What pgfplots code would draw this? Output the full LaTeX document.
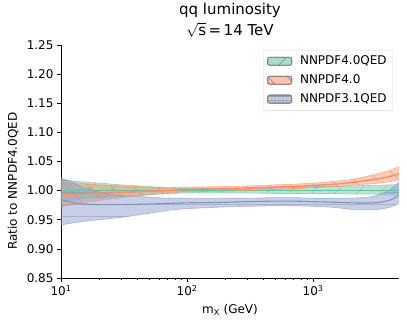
\documentclass[border=0pt]{standalone}
\usepackage{fontspec}
\setmainfont{DejaVu Sans}
\usepackage{pgfplots}
\usepackage{pgfplotstable}
\pgfplotsset{compat=1.18}
\usepgfplotslibrary{fillbetween}
\usetikzlibrary{patterns.meta}
\definecolor{cg}{HTML}{66C2A5}
\definecolor{co}{HTML}{FC8D62}
\definecolor{cb}{HTML}{8DA0CB}

\pgfplotstableread{
x    glo   ghi   olo   oc    ohi   blo   bc    bhi
10   0.980 1.020 0.972 0.994 1.016 0.941 0.985 1.022
12   0.983 1.017 0.975 0.994 1.014 0.944 0.980 1.015
15   0.986 1.015 0.979 0.995 1.012 0.947 0.977 1.006
20   0.988 1.013 0.983 0.996 1.010 0.950 0.976 0.998
30   0.990 1.010 0.988 0.997 1.008 0.954 0.976 0.992
50   0.993 1.007 0.993 0.999 1.006 0.961 0.977 0.989
70   0.995 1.005 0.996 1.000 1.005 0.966 0.978 0.987
100  0.996 1.004 0.998 1.002 1.006 0.969 0.979 0.987
200  0.996 1.004 0.999 1.003 1.007 0.972 0.980 0.987
300  0.996 1.005 1.000 1.004 1.008 0.973 0.981 0.987
500  0.995 1.006 1.002 1.006 1.010 0.974 0.982 0.988
700  0.995 1.006 1.003 1.007 1.011 0.974 0.982 0.988
1000 0.995 1.007 1.005 1.009 1.013 0.973 0.981 0.987
1500 0.995 1.007 1.007 1.011 1.016 0.971 0.980 0.987
2000 0.994 1.008 1.009 1.014 1.019 0.968 0.979 0.987
3000 0.994 1.009 1.012 1.019 1.027 0.967 0.979 0.990
4000 0.993 1.010 1.015 1.024 1.034 0.971 0.983 1.001
4800 0.993 1.010 1.018 1.029 1.041 0.978 0.992 1.015
}\data

\begin{document}
\begin{tikzpicture}
\begin{axis}[
  scale only axis, width=338pt, height=233pt,
  xmode=log, xmin=10, xmax=4800, ymin=0.85, ymax=1.25,
  axis x line*=bottom, axis y line*=left,
  axis line style={line width=0.8pt},
  tick align=outside,
  major tick length=4pt, minor tick length=2.2pt,
  every tick/.style={black, line width=0.7pt},
  minor tick style={line width=0.5pt},
  ytick={0.85,0.90,0.95,1.00,1.05,1.10,1.15,1.20,1.25},
  yticklabels={0.85,0.90,0.95,1.00,1.05,1.10,1.15,1.20,1.25},
  xtick={10,100,1000},
  xticklabels={10\textsuperscript{1},10\textsuperscript{2},10\textsuperscript{3}},
  tick label style={font=\fontsize{12}{14}\selectfont},
  label style={font=\fontsize{12}{14}\selectfont},
  xlabel={m\textsubscript{X} (GeV)},
  ylabel={Ratio to NNPDF4.0QED},
  xlabel style={at={(axis description cs:0.5,-0.137)}, anchor=center},
  ylabel style={at={(axis description cs:-0.142,0.416)}, anchor=center},
  title={qq luminosity\\[4pt]$\sqrt{\mbox{s}}$\,=\,14 TeV},
  title style={at={(axis description cs:0.5,1)}, anchor=south, align=center,
    font=\fontsize{15}{17}\selectfont, yshift=1pt, inner sep=0pt},
  legend style={at={(rel axis cs:0.982,0.979)}, anchor=north east,
    draw=black!15, rounded corners=2pt, fill=white,
    font=\fontsize{12}{14}\selectfont, row sep=4.5pt,
    inner xsep=4pt, inner ysep=4pt},
  legend cell align=left,
  legend image code/.code={\draw[#1] (0pt,-4pt) rectangle (24pt,4pt);},
]
\addlegendimage{fill=cg!55, draw=gray, line width=0.8pt,
  postaction={pattern={Lines[angle=45,distance=14pt,line width=0.6pt]}, pattern color=gray}}
\addlegendentry{\mbox{\kern6pt}NNPDF4.0QED}
\addlegendimage{fill=co!55, draw=gray, line width=0.8pt,
  postaction={pattern={Lines[angle=-45,distance=14pt,line width=0.6pt]}, pattern color=gray}}
\addlegendentry{\mbox{\kern6pt}NNPDF4.0}
\addlegendimage{fill=cb!55, draw=gray, line width=0.8pt,
  postaction={pattern={Lines[angle=0,distance=4pt,line width=0.6pt]}, pattern color=gray}}
\addlegendentry{\mbox{\kern6pt}NNPDF3.1QED}

% green
\addplot[name path=gl, cg, opacity=0.6, line width=0.6pt, forget plot] table[x=x,y=glo]{\data};
\addplot[name path=gh, cg, opacity=0.6, line width=0.6pt, forget plot] table[x=x,y=ghi]{\data};
\addplot[fill=cg, fill opacity=0.45, draw=none, forget plot,
  postaction={pattern={Lines[angle=45,distance=16pt,line width=0.5pt]}, pattern color=cg!70!black, opacity=0.4}]
  fill between[of=gl and gh];
\addplot[cg, line width=1.4pt, forget plot] coordinates {(10,1) (4800,1)};
% orange
\addplot[name path=ol, co, opacity=0.6, line width=0.6pt, forget plot] table[x=x,y=olo]{\data};
\addplot[name path=oh, co, opacity=0.6, line width=0.6pt, forget plot] table[x=x,y=ohi]{\data};
\addplot[fill=co, fill opacity=0.45, draw=none, forget plot,
  postaction={pattern={Lines[angle=-45,distance=16pt,line width=0.5pt]}, pattern color=co!70!black, opacity=0.4}]
  fill between[of=ol and oh];
\addplot[co, line width=1.4pt, smooth, forget plot] table[x=x,y=oc]{\data};
% blue
\addplot[name path=bl, cb, opacity=0.7, line width=0.6pt, smooth, forget plot] table[x=x,y=blo]{\data};
\addplot[name path=bh, cb, opacity=0.7, line width=0.6pt, smooth, forget plot] table[x=x,y=bhi]{\data};
\addplot[fill=cb, fill opacity=0.5, draw=none, forget plot,
  postaction={pattern={Lines[angle=0,distance=12pt,line width=0.5pt]}, pattern color=cb!70!black, opacity=0.3}]
  fill between[of=bl and bh];
\addplot[cb!92!black, line width=1.1pt, smooth, forget plot] table[x=x,y=bc]{\data};
\end{axis}
\pgfresetboundingbox
\path[use as bounding box] (-61pt,-46pt) rectangle (346pt,278pt);
\end{tikzpicture}
\end{document}
